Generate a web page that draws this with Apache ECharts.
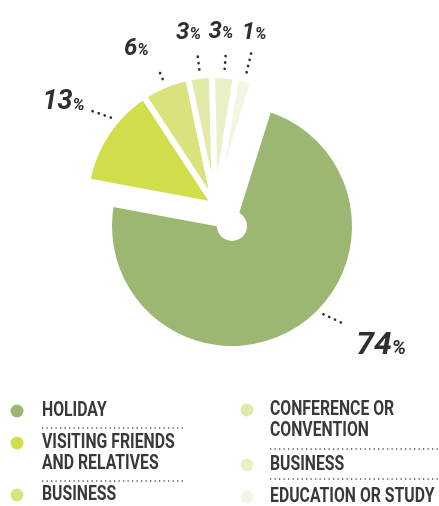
<!DOCTYPE html>
<html><head><meta charset="utf-8">
<script src="https://cdn.jsdelivr.net/npm/echarts@6/dist/echarts.min.js"></script>
<style>html,body{margin:0;padding:0;background:#fff}#c{width:439px;height:506px}</style>
</head><body><div id="c"></div>
<script>
// ---- data ----
const categories = ['Holiday', 'Visiting friends and relatives', 'Business', 'Conference or convention', 'Business', 'Education or study'];
const values = [74, 13, 6, 3, 3, 1];
const legendLabels = ['HOLIDAY', 'VISITING FRIENDS\nAND RELATIVES', 'BUSINESS', 'CONFERENCE OR\nCONVENTION', 'BUSINESS', 'EDUCATION OR STUDY'];
const colors = ['#9cb771', '#d1dd4b', '#dae27d', '#e3eaa9', '#ebf0c9', '#f3f6e2'];

// ---- layout / style ----
const MAIN_C = [232, 226], MAIN_R = 123;     // the large slice
const FAN_C = [215, 205], FAN_R = 130;       // the pulled-out smaller slices
const START = 72.6, MIN_ANGLE = 8;
const labelSizeKey = ['l', 'm', 's', 's', 's', 's'];
const lineLen = [10, 6, 19, 22, 23, 26];
const lineLen2 = [0, 15, 0, 0, 0, 0];
const labelAdj = [
  null,
  null,
  { align: 'right', va: 'bottom', dx: -9, dy: -6 },
  { align: 'center', va: 'bottom', dx: -9, dy: -9 },
  { align: 'center', va: 'bottom', dx: -5, dy: -8 },
  { align: 'center', va: 'bottom', dx: 3, dy: -8 }
];
const TXT = '#2e2f33';
const FONT = 'Roboto';
const NONE = 'rgba(0,0,0,0)';

const chart = echarts.init(document.getElementById('c'), null, { renderer: 'canvas' });

const mainData = values.map((v, i) => ({
  name: categories[i], value: v,
  itemStyle: i === 0 ? { color: colors[i], borderColor: '#fff', borderWidth: 6 } : { color: NONE, borderColor: NONE, borderWidth: 0 },
  label: { show: i === 0 },
  labelLine: { show: i === 0, length: lineLen[i], length2: lineLen2[i] }
}));
const fanData = values.map((v, i) => ({
  name: categories[i], value: v,
  itemStyle: i === 0 ? { color: NONE, borderColor: NONE, borderWidth: 0 } : { color: colors[i], borderColor: '#fff', borderWidth: 6 },
  label: { show: i !== 0 },
  labelLine: { show: i !== 0, length: lineLen[i], length2: lineLen2[i] }
}));

// legend built from the arrays
const legendCol = [0, 0, 0, 1, 1, 1];
const colDef = [{ dot: 17, text: 42, sepEnd: 183 }, { dot: 247, text: 270, sepEnd: 439 }];
const legendRowY = [411, 443, 495, 410, 465, 497];
const sepY = [[428, 481], [449, 479]];
const LH = 21.5;
const graphics = [];
legendLabels.forEach((t, i) => {
  const c = colDef[legendCol[i]];
  graphics.push({ type: 'circle', silent: true, shape: { cx: c.dot, cy: legendRowY[i], r: 6.5 }, style: { fill: colors[i] } });
  graphics.push({
    type: 'text', silent: true, x: c.text, y: legendRowY[i] - LH / 2, scaleX: 0.81,
    style: { text: t, font: 'bold 19.5px ' + FONT, fill: '#38393b', lineHeight: LH, verticalAlign: 'top', align: 'left' }
  });
});
sepY.forEach((ys, ci) => ys.forEach(y => {
  graphics.push({
    type: 'line', silent: true,
    shape: { x1: colDef[ci].text, y1: y, x2: colDef[ci].sepEnd, y2: y },
    style: { stroke: '#555', lineWidth: 1.4, lineDash: [1.3, 3.2] }
  });
}));

const rich = {
  nl: { fontSize: 32, fontWeight: 'bold', fontStyle: 'italic', fontFamily: FONT, color: TXT },
  pl: { fontSize: 20, fontWeight: 'bold', fontStyle: 'italic', fontFamily: FONT, color: TXT, verticalAlign: 'bottom', padding: [0, 0, 3, 0] },
  nm: { fontSize: 27, fontWeight: 'bold', fontStyle: 'italic', fontFamily: FONT, color: TXT },
  pm: { fontSize: 17, fontWeight: 'bold', fontStyle: 'italic', fontFamily: FONT, color: TXT, verticalAlign: 'bottom', padding: [0, 0, 2, 0] },
  ns: { fontSize: 24, fontWeight: 'bold', fontStyle: 'italic', fontFamily: FONT, color: TXT },
  ps: { fontSize: 16, fontWeight: 'bold', fontStyle: 'italic', fontFamily: FONT, color: TXT, verticalAlign: 'bottom', padding: [0, 0, 2, 0] }
};

const rad = d => d * Math.PI / 180;
const polar = (c, r, deg) => [c[0] + r * Math.sin(rad(deg)), c[1] - r * Math.cos(rad(deg))];
const labelCfg = {
  position: 'outside',
  distanceToLabelLine: 0,
  formatter: p => '{n' + labelSizeKey[p.dataIndex] + '|' + values[p.dataIndex] + '}{p' + labelSizeKey[p.dataIndex] + '|%}',
  rich: rich
};
const lineCfg = { lineStyle: { color: '#333', width: 2.7, type: [0.1, 6.3], cap: 'round' } };

chart.setOption({
  animation: false,
  backgroundColor: '#ffffff',
  graphic: { elements: graphics },
  series: [
    {
      type: 'pie', center: MAIN_C, radius: [0, MAIN_R],
      startAngle: START, minAngle: MIN_ANGLE, clockwise: true,
      avoidLabelOverlap: false, silent: true,
      emphasis: { disabled: true },
      label: labelCfg,
      labelLine: lineCfg,
      labelLayout: function (p) {
        if (p.dataIndex !== 0) return {};
        const p1 = polar(MAIN_C, MAIN_R + 4, 134);
        const p2 = polar(MAIN_C, MAIN_R + 27, 131);
        return { x: p2[0] + 11, y: p2[1] + 22, align: 'left', verticalAlign: 'middle', labelLinePoints: [p1, p2, p2] };
      },
      data: mainData
    },
    {
      type: 'pie', center: FAN_C, radius: [0, FAN_R],
      startAngle: START, minAngle: MIN_ANGLE, clockwise: true,
      avoidLabelOverlap: false, silent: true,
      emphasis: { disabled: true },
      label: labelCfg,
      labelLine: lineCfg,
      labelLayout: function (p) {
        const i = p.dataIndex;
        if (i === 1) {
          const p1 = polar(FAN_C, FAN_R + 6, 310);
          const p2 = [p1[0] - 20, p1[1] - 7];
          return { x: p2[0] - 6, y: p2[1] - 8, align: 'right', verticalAlign: 'middle', labelLinePoints: [p1, p2, p2] };
        }
        const a = labelAdj[i];
        if (!a) return {};
        return { align: a.align, verticalAlign: a.va, dx: a.dx, dy: a.dy, labelLinePoints: p.labelLinePoints };
      },
      data: fanData
    },
    {
      type: 'pie', center: MAIN_C, radius: [0, 15],
      silent: true, z: 5,
      label: { show: false }, labelLine: { show: false },
      emphasis: { disabled: true },
      itemStyle: { color: '#ffffff' },
      data: [{ value: 1, name: 'hole' }]
    }
  ]
});
</script>
</body></html>
